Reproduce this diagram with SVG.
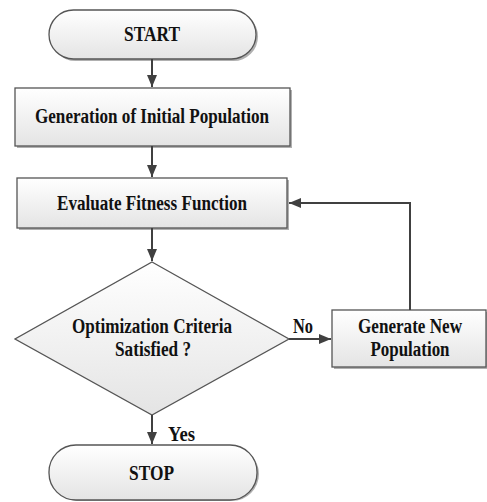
<svg xmlns="http://www.w3.org/2000/svg" width="487" height="502" viewBox="0 0 487 502">
  <defs>
    <linearGradient id="fillGrad" x1="0" y1="0" x2="0" y2="1">
      <stop offset="0" stop-color="#ffffff"/>
      <stop offset="1" stop-color="#e4e4e4"/>
    </linearGradient>
    <marker id="arrow" markerWidth="12" markerHeight="10" refX="12" refY="5" orient="auto" markerUnits="userSpaceOnUse">
      <path d="M0,0 L12,5 L0,10 Z" fill="#404040"/>
    </marker>
  </defs>
  <style>
    .shape { fill: url(#fillGrad); stroke: #555555; stroke-width: 1.3; }
    .shadow { fill: #b0b0b0; stroke: none; }
    .label { font-family: "Liberation Serif", "Times New Roman", serif; font-weight: bold; font-size: 20px; fill: #111; text-anchor: middle; }
    .edge { fill: none; stroke: #404040; stroke-width: 2; marker-end: url(#arrow); }
  </style>

  <g id="start">
    <rect class="shadow" x="51" y="12" width="207" height="49" rx="24.5"/>
    <rect class="shape" x="49" y="10" width="207" height="49" rx="24.5"/>
    <text class="label" x="152" y="41" textLength="56" lengthAdjust="spacingAndGlyphs">START</text>
  </g>

  <g id="init">
    <rect class="shadow" x="17" y="90" width="275" height="58"/>
    <rect class="shape" x="15" y="88" width="275" height="58"/>
    <text class="label" x="152" y="123" textLength="234" lengthAdjust="spacingAndGlyphs">Generation of Initial Population</text>
  </g>

  <g id="evaluate">
    <rect class="shadow" x="19" y="180" width="270" height="50"/>
    <rect class="shape" x="17" y="178" width="270" height="50"/>
    <text class="label" x="152" y="210" textLength="190" lengthAdjust="spacingAndGlyphs">Evaluate Fitness Function</text>
  </g>

  <g id="criteria">
    <polygon class="shape" points="152,262 289,339 152,415 15,339"/>
    <text class="label" x="152" y="333" textLength="160" lengthAdjust="spacingAndGlyphs">Optimization Criteria</text>
    <text class="label" x="153" y="356" textLength="76" lengthAdjust="spacingAndGlyphs">Satisfied ?</text>
  </g>

  <g id="generate">
    <rect class="shadow" x="334" y="312" width="155" height="57"/>
    <rect class="shape" x="332" y="310" width="154" height="57"/>
    <text class="label" x="410" y="333" textLength="104" lengthAdjust="spacingAndGlyphs">Generate New</text>
    <text class="label" x="410" y="356" textLength="79" lengthAdjust="spacingAndGlyphs">Population</text>
  </g>

  <g id="stop">
    <rect class="shadow" x="51" y="447" width="208" height="54" rx="27"/>
    <rect class="shape" x="49" y="445" width="208" height="55" rx="27"/>
    <text class="label" x="151.5" y="480" textLength="45" lengthAdjust="spacingAndGlyphs">STOP</text>
  </g>

  <g id="connectors">
    <line class="edge" x1="152" y1="59" x2="152" y2="87"/>
    <line class="edge" x1="152" y1="146" x2="152" y2="177"/>
    <line class="edge" x1="152" y1="228" x2="152" y2="261"/>
    <line class="edge" x1="152" y1="415" x2="152" y2="444"/>
    <line class="edge" x1="289" y1="339" x2="331" y2="339"/>
    <polyline class="edge" points="410,310 410,203 289,203"/>
    <text class="label" x="303" y="333" textLength="20" lengthAdjust="spacingAndGlyphs">No</text>
    <text class="label" x="181.5" y="441" textLength="27" lengthAdjust="spacingAndGlyphs">Yes</text>
  </g>
</svg>
